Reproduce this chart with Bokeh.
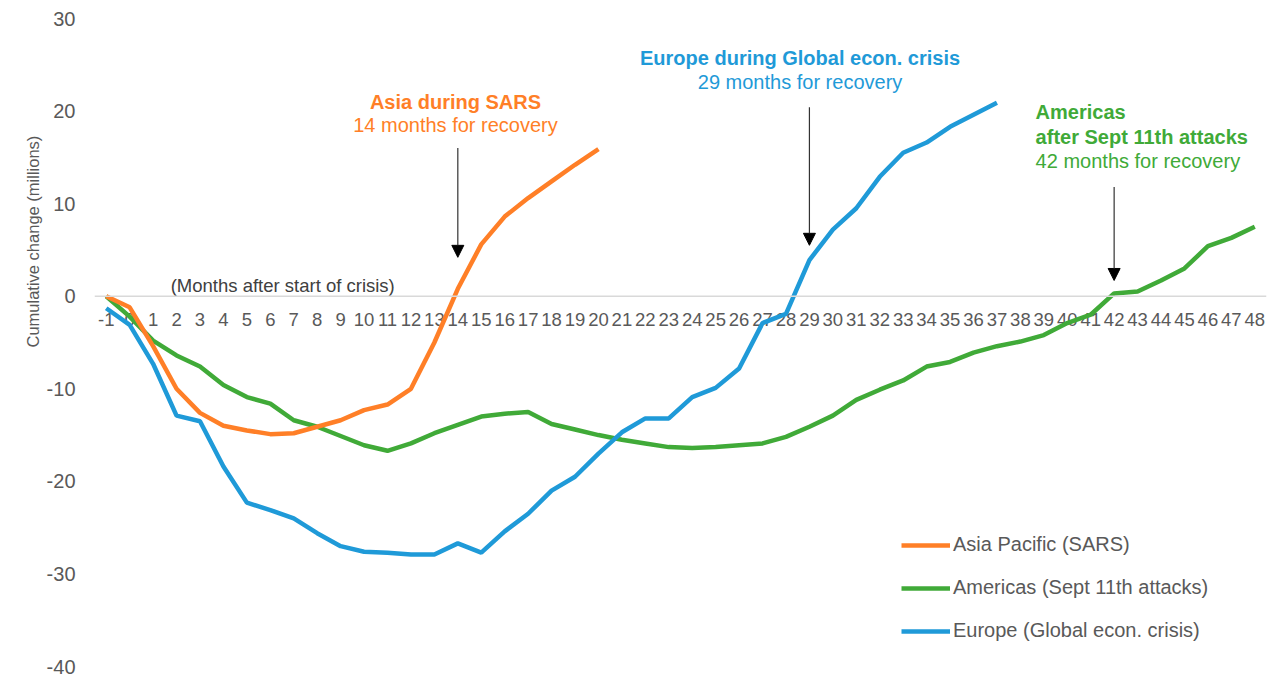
from bokeh.plotting import figure
from bokeh.models import Range1d, FixedTicker, Span, Arrow, NormalHead, Legend, LegendItem, Title
from bokeh.core.properties import value
from bokeh.embed import file_html
from bokeh.resources import INLINE

# ---------------- data ----------------
x_ticks = list(range(-1, 49))
x_tick_labels = [str(m) for m in x_ticks]
y_ticks = [-40, -30, -20, -10, 0, 10, 20, 30]
y_tick_labels = [str(t) for t in y_ticks]

asia_months = list(range(-1, 21))
asia = [0, -1.2, -5.4, -10.0, -12.6, -14.0, -14.5, -14.9, -14.8, -14.1, -13.4,
        -12.3, -11.7, -10.0, -5.0, 0.8, 5.6, 8.6, 10.6, 12.4, 14.2, 15.9]

europe_months = list(range(-1, 38))
europe = [-1.3, -3.1, -7.3, -12.9, -13.5, -18.4, -22.3, -23.1, -24.0, -25.6, -27.0,
          -27.6, -27.7, -27.9, -27.9, -26.7, -27.7, -25.4, -23.5, -21.0, -19.5, -17.0,
          -14.7, -13.2, -13.2, -10.9, -9.9, -7.8, -2.9, -1.9, 3.9, 7.2, 9.5,
          12.9, 15.5, 16.6, 18.3, 19.6, 20.9]

americas_months = list(range(-1, 49))
americas = [0, -2.2, -4.8, -6.4, -7.6, -9.6, -10.9, -11.6, -13.4, -14.1, -15.1,
            -16.1, -16.7, -15.9, -14.8, -13.9, -13.0, -12.7, -12.5, -13.8, -14.4,
            -15.0, -15.5, -15.9, -16.3, -16.4, -16.3, -16.1, -15.9, -15.2, -14.1,
            -12.9, -11.2, -10.1, -9.1, -7.6, -7.1, -6.1, -5.4, -4.9, -4.2,
            -2.9, -2.0, 0.3, 0.5, 1.7, 3.0, 5.4, 6.3, 7.5]

series_names = ["Asia Pacific (SARS)", "Americas (Sept 11th attacks)", "Europe (Global econ. crisis)"]
recovery_months = [14, 29, 42]

ORANGE = "#FF7F27"
GREEN = "#40AA38"
BLUE = "#1F9AD8"
GRAY = "#595959"
FONT = "Liberation Sans"

p = figure(width=1274, height=676, output_backend="svg", toolbar_location=None,
           x_range=Range1d(-1.5, 48.5), y_range=Range1d(-40, 30),
           min_border_left=94, min_border_right=8, min_border_top=18, min_border_bottom=10)
p.outline_line_color = None
p.grid.visible = False
p.xaxis.visible = False

yax = p.yaxis[0]
yax.ticker = FixedTicker(ticks=y_ticks)
yax.major_label_overrides = dict(zip(y_ticks, y_tick_labels))
yax.axis_line_color = None
yax.major_tick_line_color = None
yax.minor_tick_line_color = None
yax.major_tick_out = 0
yax.major_tick_in = 0
yax.major_label_standoff = 19
yax.major_label_text_font = FONT
yax.major_label_text_font_size = "20px"
yax.major_label_text_color = GRAY

# y axis title as a left-side title
p.add_layout(Title(text="Cumulative change (millions)", align="left", offset=319,
                   text_font=FONT, text_font_size="16.5px", text_font_style="normal",
                   text_color=GRAY, standoff=4), "left")

# zero line
p.add_layout(Span(location=0, dimension="width", line_color="#D9D9D9", line_width=1.5))

# x tick labels along zero line
p.text(x=x_ticks, y=[0] * len(x_ticks), text=x_tick_labels, text_font=value(FONT),
       text_font_size="18.5px", text_color=GRAY, text_align="center",
       text_baseline="middle", y_offset=23)

p.text(x=[6.64], y=[0], text=["(Months  after start of crisis)"], text_font=value(FONT),
       text_font_size="18.5px", text_color="#404040", text_align="center",
       text_baseline="middle", y_offset=-11)

r_am = p.line(americas_months, americas, line_color=GREEN, line_width=4.5)
r_as = p.line(asia_months, asia, line_color=ORANGE, line_width=4.5)
r_eu = p.line(europe_months, europe, line_color=BLUE, line_width=4.5)

legend = Legend(items=[LegendItem(label=series_names[0], renderers=[r_as]),
                       LegendItem(label=series_names[1], renderers=[r_am]),
                       LegendItem(label=series_names[2], renderers=[r_eu])],
                location=(807, 24), orientation="vertical",
                label_text_font=FONT, label_text_font_size="20px", label_text_color=GRAY,
                glyph_width=49, glyph_height=20, label_height=20, spacing=20,
                label_standoff=3, padding=0, margin=0,
                border_line_alpha=0, background_fill_alpha=0)
p.add_layout(legend)

# annotations
arrow_tops = [16.0, 20.4, 11.8]
arrow_ends = [4.2, 5.5, 1.7]
for m, t, e in zip(recovery_months, arrow_tops, arrow_ends):
    p.add_layout(Arrow(end=NormalHead(size=12, fill_color="black", line_color="black"),
                       x_start=m, y_start=t, x_end=m, y_end=e,
                       line_color="#333333", line_width=1.2))

p.text(x=[13.9], y=[21.0], text=["Asia during SARS"], text_font=value(FONT),
       text_font_style="bold", text_font_size="20px", text_color=ORANGE,
       text_align="center", text_baseline="middle")
p.text(x=[13.9], y=[18.5], text=["14 months for recovery"], text_font=value(FONT),
       text_font_size="20px", text_color=ORANGE, text_align="center", text_baseline="middle")

p.text(x=[28.6], y=[25.7], text=["Europe during Global econ. crisis"], text_font=value(FONT),
       text_font_style="bold", text_font_size="20px", text_color=BLUE,
       text_align="center", text_baseline="middle")
p.text(x=[28.6], y=[23.1], text=["29 months for recovery"], text_font=value(FONT),
       text_font_size="20px", text_color=BLUE, text_align="center", text_baseline="middle")

p.text(x=[38.65] * 2, y=[19.9, 17.2], text=["Americas", "after Sept 11th attacks"],
       text_font=value(FONT), text_font_style="bold", text_font_size="20px",
       text_color=GREEN, text_align="left", text_baseline="middle")
p.text(x=[38.65], y=[14.6], text=["42 months for recovery"], text_font=value(FONT),
       text_font_size="20px", text_color=GREEN, text_align="left", text_baseline="middle")

open("out.html", "w").write(file_html(p, INLINE))
